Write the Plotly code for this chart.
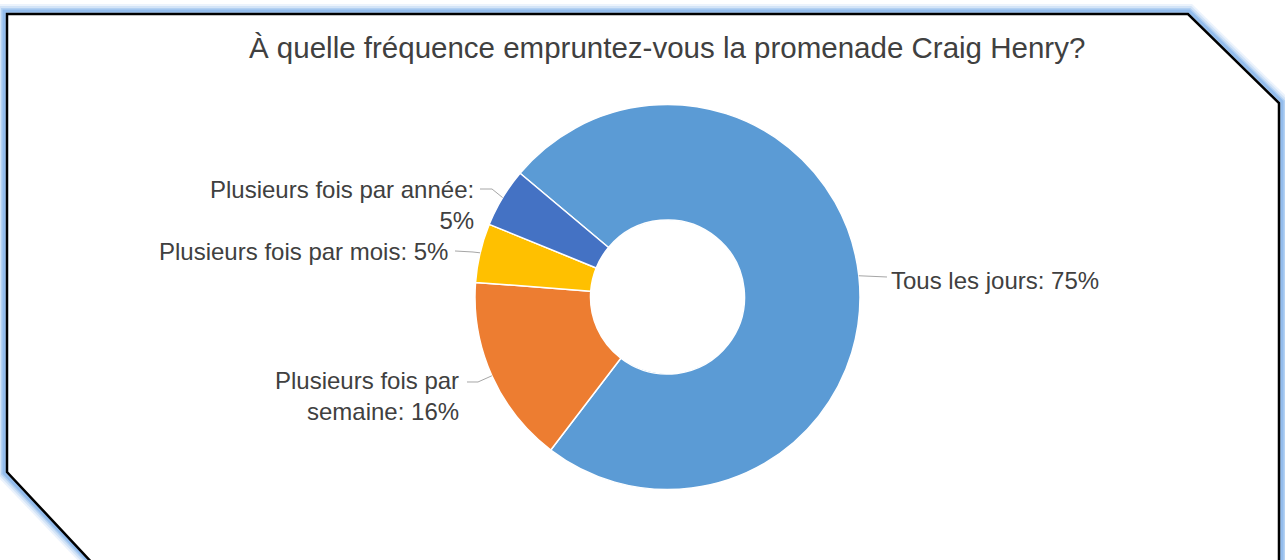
import math
import plotly.graph_objects as go

# ---- data ----
categories = ["Tous les jours", "Plusieurs fois par semaine", "Plusieurs fois par mois", "Plusieurs fois par année"]
label_text = ["Tous les jours", "Plusieurs fois par<br>semaine", "Plusieurs fois par mois", "Plusieurs fois par année:<br>"]
values = [75, 16, 5, 5]
colors = ["#5B9BD5", "#ED7D31", "#FFC000", "#4472C4"]
title = "À quelle fréquence empruntez-vous la promenade Craig Henry?"

W, H = 1285, 560
CX, CY, R = 667.5, 297.0, 192.5
ROT = -50.0  # degrees clockwise from 12 o'clock


def px(x):
    return x / W


def py(y):
    return 1 - y / H


fig = go.Figure()
fig.add_trace(go.Pie(
    labels=categories,
    values=values,
    marker=dict(colors=colors, line=dict(color="white", width=1.5)),
    hole=0.4,
    sort=False,
    direction="clockwise",
    rotation=ROT,
    textinfo="none",
    showlegend=False,
    domain=dict(x=[px(CX - R), px(CX + R)], y=[py(CY + R), py(CY - R)]),
))

# label layout (pixel positions of text and leader elbows)
label_layout = [
    dict(x=889, y=280, xa="left", pts=[(887, 277)]),
    dict(x=461, y=396, xa="right", pts=[(467, 382), (478, 382)]),
    dict(x=450, y=252, xa="right", pts=[(455, 251), (473, 252)]),
    dict(x=476, y=205, xa="right", pts=[(480, 189), (492, 189)]),
]


def to_path(pts, close=False):
    s = " ".join(("M" if i == 0 else "L") + f" {px(x):.5f},{py(y):.5f}" for i, (x, y) in enumerate(pts))
    return s + (" Z" if close else "")


shapes = []
annotations = []

# frame glow + frame
glow_pts = [(92.8, 566), (4, 473.2), (4, 11), (1189.2, 11), (1282, 101.7), (1282, 566)]
for wdt, op in [(14, 0.12), (10, 0.18), (6, 0.28), (3, 0.40)]:
    shapes.append(dict(type="path", path=to_path(glow_pts), xref="paper", yref="paper",
                       line=dict(color=f"rgba(100,160,230,{op})", width=wdt), layer="below"))
frame_pts = [(95, 566), (7, 472), (7, 14), (1188, 14), (1279, 103), (1279, 566)]
shapes.append(dict(type="path", path=to_path(frame_pts, close=True),
                   xref="paper", yref="paper", fillcolor="white", line=dict(width=0), layer="below"))
shapes.append(dict(type="path", path=to_path(frame_pts), xref="paper", yref="paper",
                   line=dict(color="black", width=2.5), layer="below"))

total = sum(values)
cum = 0.0
for cat, txt, v, lay in zip(categories, label_text, values, label_layout):
    mid = math.radians(ROT + 360.0 * (cum + v / 2.0) / total)
    cum += v
    sx = CX + R * math.sin(mid)
    sy = CY - R * math.cos(mid)
    pts = lay["pts"] + [(sx, sy)]
    shapes.append(dict(type="path", path=to_path(pts), xref="paper", yref="paper",
                       line=dict(color="#A6A6A6", width=1), layer="above"))
    if txt.endswith("<br>"):
        t = f"{txt}{v}%"
    else:
        t = f"{txt}: {v}%"
    annotations.append(dict(text=t, x=px(lay["x"]), y=py(lay["y"]), xref="paper", yref="paper",
                            xanchor=lay["xa"], yanchor="middle",
                            align="right" if lay["xa"] == "right" else "left",
                            showarrow=False,
                            font=dict(family="Liberation Sans, Arial, sans-serif", size=24, color="#404040")))

annotations.append(dict(text=title, x=px(667), y=py(47), xref="paper", yref="paper",
                        xanchor="center", yanchor="middle", showarrow=False,
                        font=dict(family="Liberation Sans, Arial, sans-serif", size=29.5, color="#404040")))

fig.update_layout(
    width=W, height=H,
    margin=dict(l=0, r=0, t=0, b=0),
    paper_bgcolor="white", plot_bgcolor="white",
    shapes=shapes, annotations=annotations,
)
fig.write_html("out.html", config={"displayModeBar": False},
               post_script="document.body.style.margin='0';document.body.style.overflow='hidden';")
